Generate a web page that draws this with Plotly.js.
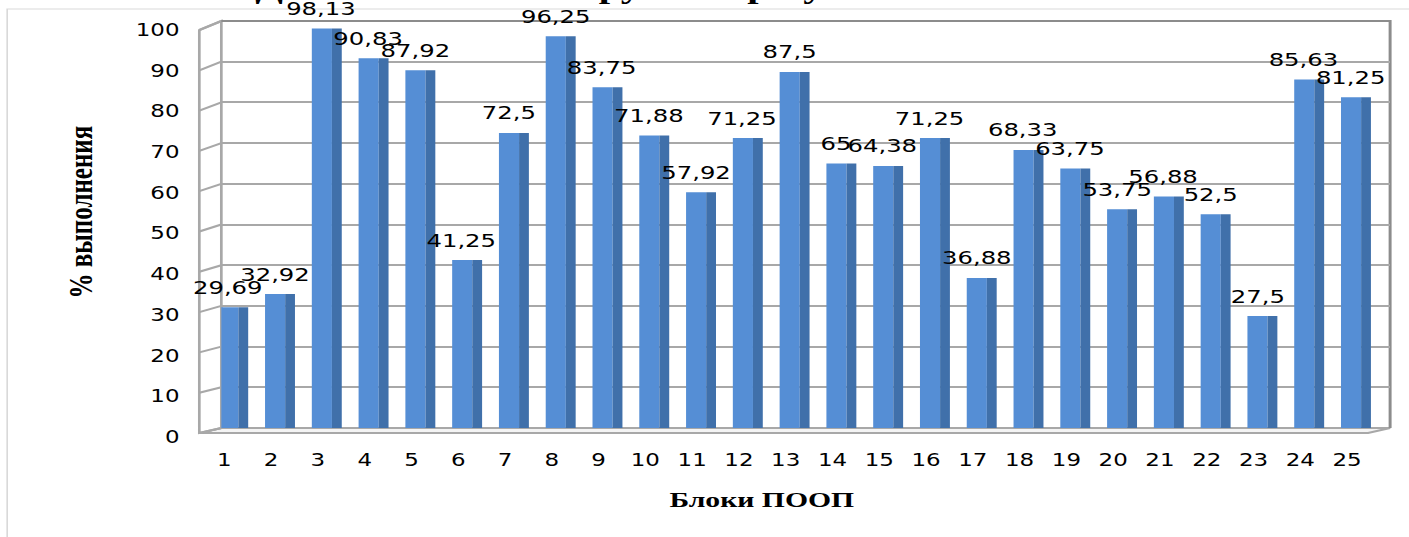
<!DOCTYPE html>
<html><head><meta charset="utf-8">
<script src="https://cdn.plot.ly/plotly-3.0.1.min.js"></script>
<style>
html,body{margin:0;padding:0;overflow:hidden;background:#fff}
#wrap{width:1409px;height:537px;overflow:hidden;position:relative}
#chart{width:1044px;height:537px;transform:scaleX(1.3496169);transform-origin:0 0}
</style>
</head><body><div id="wrap"><div id="chart"></div></div>
<script>
// ---- data ----
const blocks = [1,2,3,4,5,6,7,8,9,10,11,12,13,14,15,16,17,18,19,20,21,22,23,24,25];
const tickLabels = ["1","2","3","4","5","6","7","8","9","10","11","12","13","14","15","16","17","18","19","20","21","22","23","24","25"];
const values = [29.69,32.92,98.13,90.83,87.92,41.25,72.5,96.25,83.75,71.88,57.92,71.25,87.5,65,64.38,71.25,36.88,68.33,63.75,53.75,56.88,52.5,27.5,85.63,81.25];
const valueLabels = ["29,69","32,92","98,13","90,83","87,92","41,25","72,5","96,25","83,75","71,88","57,92","71,25","87,5","65","64,38","71,25","36,88","68,33","63,75","53,75","56,88","52,5","27,5","85,63","81,25"];
const yTicks = [0,10,20,30,40,50,60,70,80,90,100];
const chartTitle = "Достижение планируемых результатов";
const xTitle = "Блоки ПООП";
const yTitle = "% выполнения";

// ---- layout geometry (final pixels, chart is stretched horizontally by S) ----
const W = 1044, H = 537, S = 1409 / W;
const L = 222 / S, R = W - 1390 / S;           // back wall edges
const PW = W - L - R;
const T = 21, B = H - 428, PH = H - T - B;
const unitDiv = 46.75 / S;                       // px per category
const xr0 = 1 - (225 / S - L) / unitDiv;
const xr1 = xr0 + PW / unitDiv;
const fx = px => (px / S - L) / PW;
const fy = py => (H - B - py) / PH;

const frontW = 0.43, frontOff = -0.13, sideW = 0.21, sideOff = 0.30;

const traces = [
  {type:'bar', x: blocks, y: values, width: frontW, offset: frontOff,
   marker:{color:'#558ED5', line:{width:0}}, cliponaxis:false, hoverinfo:'none'},
  {type:'bar', x: blocks, y: values, width: sideW, offset: sideOff,
   marker:{color:'#4070AA', line:{width:0}}, cliponaxis:false, hoverinfo:'none'}
];

const labelFont = {family:'DejaVu Sans', size:18, color:'#000'};
const annotations = blocks.map((b, i) => ({
  x: b, y: values[i], xref:'x', yref:'y', text: valueLabels[i], showarrow:false,
  xshift: (frontOff + frontW / 2) * unitDiv, yshift: 20, yanchor:'middle', xanchor:'center',
  font: labelFont
}));
annotations.push({
  xref:'paper', yref:'paper', x: fx(611), y: fy(-12), text: '<b>' + chartTitle + '</b>',
  showarrow:false, xanchor:'center', yanchor:'middle',
  font:{family:'Liberation Serif', size:30, color:'#000'}
});
annotations.push({
  xref:'paper', yref:'paper', x: fx(762), y: fy(500), text: '<b>' + xTitle + '</b>',
  showarrow:false, xanchor:'center', yanchor:'middle',
  font:{family:'Liberation Serif', size:22, color:'#000'}
});
annotations.push({
  xref:'paper', yref:'paper', x: fx(81), y: fy(212), text: '<b>' + yTitle + '</b>',
  showarrow:false, xanchor:'center', yanchor:'middle', textangle:-90,
  font:{family:'Liberation Serif', size:25, color:'#000'}
});

const grid = '#A8A8A8', wall = '#8C8C8C';
const shapes = [];
// outer chart border
shapes.push({type:'rect', xref:'paper', yref:'paper', x0:fx(8), x1:fx(1440), y0:fy(9), y1:fy(600),
  line:{color:'#D9D9D9', width:1.2}, fillcolor:'rgba(0,0,0,0)', layer:'below'});
// floor
shapes.push({type:'path', xref:'paper', yref:'paper', layer:'below',
  path:`M ${fx(200)} ${fy(433)} L ${fx(1368)} ${fy(433)} L ${fx(1390)} ${fy(428)} L ${fx(222)} ${fy(428)} Z`,
  fillcolor:'#F4F4F4', line:{color:grid, width:2}});
// left wall
shapes.push({type:'path', xref:'paper', yref:'paper', layer:'below',
  path:`M ${fx(200)} ${fy(433)} L ${fx(222)} ${fy(428)} L ${fx(222)} ${fy(21)} L ${fx(200)} ${fy(30)} Z`,
  fillcolor:'#FFFFFF', line:{color:grid, width:2}});
yTicks.forEach(v => {
  const yf = 433 - 4.03 * v, yb = 428 - 4.07 * v;
  shapes.push({type:'line', xref:'paper', yref:'paper', layer:'below',
    x0:fx(200), y0:fy(yf), x1:fx(222), y1:fy(yb), line:{color:grid, width:2}});
});
// back wall border (top, right)
shapes.push({type:'path', xref:'paper', yref:'paper', layer:'below',
  path:`M ${fx(222)} ${fy(21)} L ${fx(1390)} ${fy(21)} L ${fx(1390)} ${fy(428)}`,
  line:{color:wall, width:2.2}});

const layout = {
  width: W, height: H,
  margin:{l:L, r:R, t:T, b:B, pad:0},
  paper_bgcolor:'#fff', plot_bgcolor:'#fff',
  showlegend:false, barmode:'overlay',
  xaxis:{range:[xr0, xr1], tickvals: blocks, ticktext: tickLabels, showgrid:false, zeroline:false,
    showline:false, ticks:'', ticklabelstandoff:20,
    tickfont:{family:'DejaVu Sans', size:17, color:'#000'}, fixedrange:true},
  yaxis:{range:[0,100], tickvals: yTicks, showgrid:true, gridcolor:grid, gridwidth:2, zeroline:false,
    showline:false, ticks:'', ticklabelstandoff:30, ticklabelshift:9,
    tickfont:{family:'DejaVu Sans', size:17, color:'#000'}, fixedrange:true},
  annotations, shapes
};

Plotly.newPlot('chart', traces, layout, {staticPlot:true, displayModeBar:false});
</script>
</body></html>
